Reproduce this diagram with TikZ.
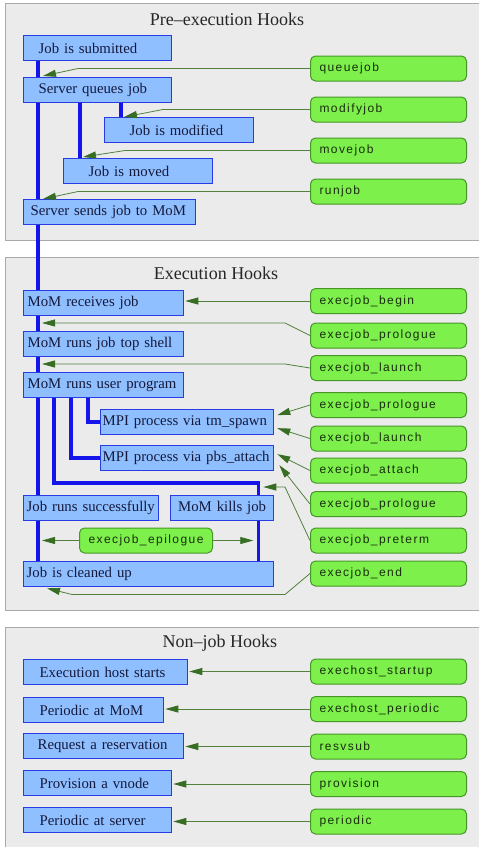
\documentclass[tikz,border=0pt]{standalone}
\usepackage{fontspec}
\setmainfont{Liberation Serif}
\newfontfamily\hookfont[LetterSpace=12]{Liberation Sans}
\usetikzlibrary{positioning}
\usetikzlibrary{arrows.meta}
\usetikzlibrary{backgrounds}

\definecolor{panelfill}{RGB}{235,235,235}
\definecolor{paneledge}{RGB}{170,170,170}
\definecolor{jobfill}{RGB}{143,191,255}
\definecolor{jobedge}{RGB}{40,60,230}
\definecolor{jobtext}{RGB}{20,25,60}
\definecolor{spineblue}{RGB}{20,20,235}
\definecolor{hookfill}{RGB}{125,240,75}
\definecolor{hookedge}{RGB}{70,150,40}
\definecolor{hooktext}{RGB}{25,45,15}
\definecolor{hookline}{RGB}{80,130,60}
\definecolor{hooktip}{RGB}{55,110,35}

\begin{document}
\begin{tikzpicture}[x=1pt, y=-1pt,
		panel/.style={fill=panelfill, draw=paneledge, line width=1pt},
		title/.style={font=\fontsize{18}{20}\selectfont, text=black!85},
		jobbox/.style={draw=jobedge, fill=jobfill, line width=1.3pt,
			anchor=north west, minimum height=25pt, inner ysep=0pt,
			align=left, text=jobtext, font=\fontsize{14.8}{16}\selectfont},
		hook/.style={draw=hookedge, fill=hookfill, line width=1pt,
			rounded corners=5pt, anchor=west, minimum width=156pt,
			minimum height=25pt, inner xsep=9pt, text width=138pt,
			align=left, text=hooktext, font=\hookfont\fontsize{12}{13}\selectfont},
		spine/.style={draw=spineblue, line width=4pt},
		branch/.style={draw=spineblue, line width=3.5pt},
		hookarrow/.style={draw=hookline, line width=0.8pt,
			-{Triangle[length=13pt,width=7pt,fill=hooktip,color=hooktip]}}]
		\useasboundingbox (0,0) rectangle (479,847);

		\begin{scope}[on background layer]
			\draw[panel] (5,3) rectangle (484,240);
			\draw[panel] (5,257) rectangle (484,610);
			\draw[panel] (5,627) rectangle (484,852);
		\end{scope}

		% pre-execution
		\node[title] (pretitle) at (227,19) {Pre–execution Hooks};
		\node[jobbox, inner xsep=15pt, text width=118pt] (submitted) at (23,35) {Job is submitted};
		\node[jobbox, inner xsep=15pt, text width=118pt] (queues) at (23,77) {Server queues job};
		\node[jobbox, inner xsep=25pt, text width=99pt] (modified) at (104,117) {Job is modified};
		\node[jobbox, inner xsep=25pt, text width=99pt] (moved) at (63,158) {Job is moved};
		\node[jobbox, inner xsep=7pt, text width=158pt] (sendmom) at (23,199) {Server sends job to MoM};

		\node[hook] (queuejob) at (310,68.5) {queuejob};
		\node[hook] (modifyjob) at (310,109.5) {modifyjob};
		\node[hook] (movejob) at (310,150.5) {movejob};
		\node[hook] (runjob) at (310,191.5) {runjob};

		% execution
		\node[title] (exectitle) at (216,273) {Execution Hooks};
		\node[jobbox, inner xsep=4pt, text width=152pt] (receives) at (23,290) {MoM receives job};
		\node[jobbox, inner xsep=4pt, text width=152pt] (topshell) at (23,331) {MoM runs job top shell};
		\node[jobbox, inner xsep=4pt, text width=152pt] (userprog) at (23,372) {MoM runs user program};
		\node[jobbox, inner xsep=2pt, text width=169pt] (tmspawn) at (100,409) {MPI process via tm\_spawn};
		\node[jobbox, inner xsep=2pt, text width=169pt] (pbsattach) at (100,445) {MPI process via pbs\_attach};
		\node[jobbox, inner xsep=3pt, text width=129pt] (success) at (23,495) {Job runs successfully};
		\node[jobbox, inner xsep=7pt, text width=89pt, align=center] (kills) at (170,495) {MoM kills job};
		\node[jobbox, inner xsep=3pt, text width=244pt] (cleaned) at (23,561) {Job is cleaned up};

		\node[hook] (begin) at (310,301) {execjob\_begin};
		\node[hook] (prologuea) at (310,335.5) {execjob\_prologue};
		\node[hook] (launcha) at (310,368) {execjob\_launch};
		\node[hook] (prologueb) at (310,405) {execjob\_prologue};
		\node[hook] (launchb) at (310,438.5) {execjob\_launch};
		\node[hook] (attach) at (310,470.5) {execjob\_attach};
		\node[hook] (prologuec) at (310,504) {execjob\_prologue};
		\node[hook] (preterm) at (310,540.5) {execjob\_preterm};
		\node[hook] (endhook) at (310,573.5) {execjob\_end};
		\node[hook, minimum width=133pt, text width=115pt, align=center] (epilogue) at (79,540.5) {execjob\_epilogue};

		% non-job
		\node[title] (nonjobtitle) at (220,643) {Non–job Hooks};
		\node[jobbox, inner xsep=16pt, text width=132pt] (hoststart) at (23,659) {Execution host starts};
		\node[jobbox, inner xsep=16pt, text width=108pt] (periodicmom) at (23,697) {Periodic at MoM};
		\node[jobbox, inner xsep=14pt, text width=132pt] (reservation) at (23,733) {Request a reservation};
		\node[jobbox, inner xsep=16pt, text width=116pt] (vnode) at (23,770) {Provision a vnode};
		\node[jobbox, inner xsep=16pt, text width=116pt] (periodicserver) at (23,807) {Periodic at server};

		\node[hook] (startuphook) at (310,671.5) {exechost\_startup};
		\node[hook, below=11.5pt of startuphook] (hostperiodic) {exechost\_periodic};
		\node[hook, below=11.5pt of hostperiodic] (resvsub) {resvsub};
		\node[hook, below=11.5pt of resvsub] (provision) {provision};
		\node[hook, below=11.5pt of provision] (periodic) {periodic};

		% blue flow lines
		\begin{scope}[on background layer]
			\coordinate (spinetop) at ([xshift=15pt]submitted.south west);
			\draw[spine] (spinetop) -- (spinetop |- cleaned.north);
			\draw[branch] ([xshift=17pt]modified.north west) -- ([xshift=17pt]modified.north west |- queues.south);
			\draw[branch] ([xshift=17pt]moved.north west) -- ([xshift=17pt]moved.north west |- queues.south);
			\draw[branch] (tmspawn.west) -| ([xshift=65pt]userprog.south west);
			\draw[branch] (pbsattach.west) -| ([xshift=48pt]userprog.south west);
			\draw[branch] ([xshift=31pt]userprog.south west) |- ([xshift=-16pt,yshift=12pt]kills.north east) -- ([xshift=-16pt]kills.north east);
			\draw[branch] ([xshift=-16pt]kills.south east) -- ([xshift=-16pt]kills.south east |- cleaned.north);
		\end{scope}

		% hook arrows
		\draw[hookarrow] (queuejob.west) -- ([xshift=55pt]queues.north west |- queuejob.west) -- ([xshift=20pt,yshift=1pt]queues.north west);
		\draw[hookarrow] (modifyjob.west) -- ([xshift=59pt]modified.north west |- modifyjob.west) -- ([xshift=20pt]modified.north west);
		\draw[hookarrow] (movejob.west) -- ([xshift=62pt]moved.north west |- movejob.west) -- ([xshift=20pt,yshift=1pt]moved.north west);
		\draw[hookarrow] (runjob.west) -- ([xshift=55pt]sendmom.north west |- runjob.west) -- ([xshift=20pt]sendmom.north west);

		\coordinate (tipa) at ([xshift=19pt,yshift=8pt]topshell.north west);
		\coordinate (tipb) at ([xshift=19pt,yshift=8pt]userprog.north west);
		\coordinate (tipd) at ([xshift=-11pt,yshift=8pt]kills.north east);
		\coordinate (bende) at ([xshift=-25pt,yshift=-21pt]endhook.west);
		\draw[hookarrow, shorten >=1pt] (begin.west) -- (begin.west -| receives.east);
		\draw[hookarrow] (prologuea.west) -- ([xshift=-25pt]prologuea.west |- tipa) -- (tipa);
		\draw[hookarrow] (launcha.west) -- ([xshift=-25pt]launcha.west |- tipb) -- (tipb);
		\draw[hookarrow] (prologueb.west) -- ([xshift=3pt,yshift=7pt]tmspawn.east);
		\draw[hookarrow] (launchb.west) -- ([xshift=3pt,yshift=-6pt]tmspawn.east);
		\draw[hookarrow] (attach.west) -- ([xshift=3pt,yshift=4pt]pbsattach.east);
		\draw[hookarrow] (prologuec.west) -- ([xshift=5pt,yshift=-7pt]pbsattach.east);
		\draw[hookarrow] (preterm.west) -- ([xshift=-25pt]preterm.west |- tipd) -- (tipd);
		\draw[hookarrow] (endhook.west) -- (bende) -- ([xshift=49pt]cleaned.south west |- bende) -- ([xshift=24pt,yshift=-1pt]cleaned.south west);
		\draw[hookarrow] (epilogue.west) -- ([xshift=4pt]epilogue.west -| spinetop);
		\draw[hookarrow] (epilogue.east) -- ([xshift=-21pt]epilogue.east -| kills.east);

		\draw[hookarrow, shorten >=1pt] (startuphook.west) -- (startuphook.west -| hoststart.east);
		\draw[hookarrow, shorten >=1pt] (hostperiodic.west) -- (hostperiodic.west -| periodicmom.east);
		\draw[hookarrow, shorten >=1pt] (resvsub.west) -- (resvsub.west -| reservation.east);
		\draw[hookarrow, shorten >=1pt] (provision.west) -- (provision.west -| vnode.east);
		\draw[hookarrow, shorten >=1pt] (periodic.west) -- (periodic.west -| periodicserver.east);
\end{tikzpicture}
\end{document}
